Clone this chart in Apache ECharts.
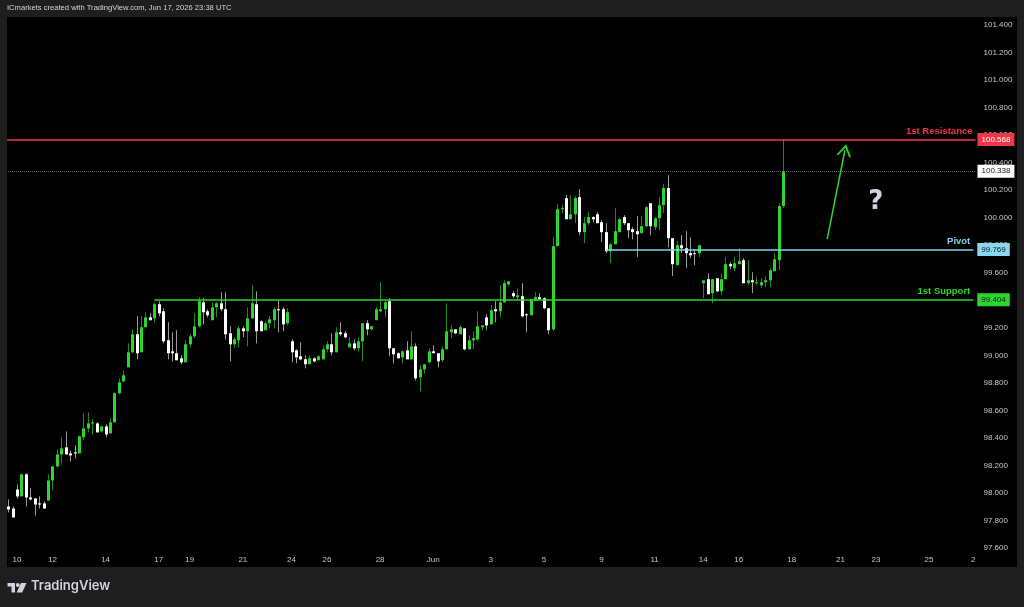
<!DOCTYPE html>
<html>
<head>
<meta charset="utf-8">
<script src="https://cdn.jsdelivr.net/npm/echarts@6/dist/echarts.min.js"></script>
<style>
  html, body { margin: 0; padding: 0; background: #000; }
  #chart { width: 1024px; height: 607px; }
</style>
</head>
<body>
<div id="chart"></div>
<script>
// 4h candles, [open, close, low, high]
const ohlc = [
  [97.902, 97.880, 97.858, 97.953], [97.887, 97.822, 97.822, 97.902], [98.025, 97.975, 97.960, 98.062],
  [97.975, 98.135, 97.975, 98.142], [98.135, 97.967, 97.902, 98.142], [97.967, 97.953, 97.945, 98.033],
  [97.960, 97.916, 97.836, 97.960], [97.924, 97.916, 97.887, 97.975], [97.924, 97.887, 97.887, 97.938],
  [97.945, 98.091, 97.945, 98.135], [98.091, 98.193, 98.018, 98.193], [98.193, 98.280, 98.185, 98.316],
  [98.280, 98.324, 98.215, 98.404], [98.331, 98.280, 98.280, 98.447], [98.287, 98.273, 98.229, 98.309],
  [98.295, 98.287, 98.251, 98.345], [98.287, 98.411, 98.287, 98.418], [98.404, 98.469, 98.382, 98.578],
  [98.469, 98.505, 98.440, 98.585], [98.505, 98.513, 98.425, 98.535], [98.505, 98.440, 98.440, 98.513],
  [98.447, 98.484, 98.440, 98.491], [98.484, 98.425, 98.404, 98.498], [98.433, 98.513, 98.433, 98.542],
  [98.513, 98.724, 98.513, 98.731], [98.724, 98.804, 98.716, 98.833], [98.811, 98.855, 98.804, 98.891],
  [98.913, 99.022, 98.913, 99.087], [99.022, 99.153, 99.015, 99.189], [99.153, 99.015, 98.971, 99.284],
  [99.022, 99.204, 99.022, 99.284], [99.204, 99.276, 99.204, 99.313], [99.276, 99.255, 99.255, 99.305],
  [99.269, 99.371, 99.240, 99.385], [99.371, 99.305, 99.284, 99.393], [99.320, 99.102, 99.087, 99.342],
  [99.109, 99.015, 98.971, 99.240], [99.029, 99.015, 98.956, 99.167], [99.015, 98.964, 98.964, 99.182],
  [98.978, 98.949, 98.935, 99.000], [98.949, 99.080, 98.949, 99.109], [99.080, 99.138, 99.058, 99.153],
  [99.138, 99.211, 99.124, 99.305], [99.211, 99.393, 99.204, 99.422], [99.385, 99.313, 99.225, 99.415],
  [99.320, 99.291, 99.276, 99.335], [99.255, 99.349, 99.255, 99.385], [99.349, 99.378, 99.276, 99.385],
  [99.378, 99.335, 99.320, 99.458], [99.335, 99.153, 99.116, 99.458], [99.160, 99.080, 98.956, 99.211],
  [99.080, 99.116, 99.051, 99.131], [99.109, 99.196, 99.058, 99.211], [99.196, 99.175, 99.131, 99.211],
  [99.175, 99.269, 99.065, 99.349], [99.269, 99.378, 99.269, 99.509], [99.371, 99.175, 99.087, 99.465],
  [99.247, 99.175, 99.175, 99.255], [99.182, 99.233, 99.182, 99.247], [99.233, 99.262, 99.196, 99.284],
  [99.255, 99.335, 99.196, 99.349], [99.335, 99.327, 99.167, 99.400], [99.335, 99.225, 99.175, 99.349],
  [99.233, 99.313, 99.218, 99.342], [99.102, 99.022, 98.949, 99.116], [99.036, 98.985, 98.942, 99.044],
  [98.993, 98.971, 98.964, 99.095], [98.971, 98.935, 98.905, 99.000], [98.935, 98.978, 98.935, 99.000],
  [98.978, 98.956, 98.949, 98.985], [98.964, 98.993, 98.964, 99.000], [98.971, 99.044, 98.971, 99.073],
  [99.044, 99.080, 99.022, 99.102], [99.080, 99.022, 99.000, 99.160], [99.022, 99.167, 99.022, 99.204],
  [99.167, 99.153, 99.138, 99.240], [99.160, 99.131, 99.124, 99.175], [99.058, 99.087, 99.058, 99.131],
  [99.087, 99.051, 99.036, 99.116], [99.051, 99.102, 99.029, 99.131], [99.102, 99.233, 98.956, 99.233],
  [99.233, 99.189, 99.145, 99.255], [99.189, 99.211, 99.182, 99.211], [99.255, 99.335, 99.255, 99.349],
  [99.320, 99.335, 99.313, 99.531], [99.335, 99.385, 99.276, 99.400], [99.393, 99.051, 98.993, 99.415],
  [99.051, 99.007, 98.942, 99.051], [99.015, 98.978, 98.978, 99.022], [98.985, 99.029, 98.942, 99.036],
  [99.036, 98.971, 98.971, 99.102], [98.971, 99.065, 98.971, 99.175], [99.065, 98.833, 98.818, 99.087],
  [98.840, 98.898, 98.738, 98.927], [98.898, 98.935, 98.869, 98.935], [98.949, 99.029, 98.942, 99.051],
  [99.029, 99.015, 99.015, 99.073], [99.015, 98.956, 98.913, 99.015], [98.964, 99.044, 98.949, 99.065],
  [99.044, 99.175, 99.044, 99.378], [99.167, 99.189, 99.124, 99.218], [99.189, 99.160, 99.153, 99.189],
  [99.153, 99.204, 99.153, 99.218], [99.196, 99.044, 99.036, 99.196], [99.044, 99.109, 99.044, 99.145],
  [99.109, 99.124, 99.044, 99.175], [99.116, 99.211, 99.102, 99.320], [99.204, 99.218, 99.182, 99.218],
  [99.276, 99.218, 99.182, 99.298], [99.225, 99.327, 99.225, 99.364], [99.335, 99.320, 99.240, 99.393],
  [99.320, 99.385, 99.276, 99.509], [99.385, 99.524, 99.385, 99.545], [99.516, 99.538, 99.502, 99.538],
  [99.451, 99.429, 99.415, 99.465], [99.422, 99.436, 99.400, 99.487], [99.429, 99.284, 99.276, 99.524],
  [99.298, 99.291, 99.167, 99.305], [99.291, 99.407, 99.291, 99.407], [99.400, 99.422, 99.400, 99.458],
  [99.422, 99.407, 99.400, 99.451], [99.415, 99.342, 99.335, 99.422], [99.342, 99.182, 99.153, 99.342],
  [99.189, 99.793, 99.175, 99.858], [99.793, 100.062, 99.793, 100.098], [100.062, 100.069, 100.033, 100.091],
  [100.142, 99.989, 99.989, 100.164], [99.989, 100.025, 99.989, 100.164], [100.025, 100.142, 99.960, 100.156],
  [100.149, 99.895, 99.873, 100.207], [99.895, 99.960, 99.815, 100.004], [99.960, 100.004, 99.945, 100.040],
  [100.004, 99.989, 99.967, 100.011], [100.025, 99.960, 99.960, 100.040], [99.967, 99.895, 99.822, 99.982],
  [99.895, 99.756, 99.742, 99.960], [99.756, 99.807, 99.669, 99.815], [99.807, 99.902, 99.807, 100.069],
  [99.895, 99.989, 99.895, 99.996], [100.004, 99.960, 99.945, 100.018], [99.960, 99.909, 99.851, 99.960],
  [99.916, 99.895, 99.844, 99.931], [99.902, 99.880, 99.713, 100.011], [99.887, 99.938, 99.887, 100.011],
  [99.938, 100.076, 99.931, 100.084], [100.105, 99.938, 99.873, 100.105], [99.931, 99.996, 99.909, 100.004],
  [99.996, 100.091, 99.909, 100.149], [100.091, 100.215, 100.033, 100.244], [100.215, 99.851, 99.785, 100.309],
  [99.851, 99.662, 99.575, 99.851], [99.655, 99.800, 99.655, 99.829], [99.800, 99.778, 99.742, 99.873],
  [99.778, 99.742, 99.633, 99.902], [99.742, 99.727, 99.705, 99.858], [99.742, 99.735, 99.655, 99.771],
  [99.742, 99.800, 99.713, 99.800], [99.524, 99.545, 99.415, 99.545], [99.553, 99.444, 99.444, 99.596],
  [99.451, 99.553, 99.378, 99.553], [99.560, 99.465, 99.458, 99.560], [99.465, 99.553, 99.436, 99.596],
  [99.553, 99.662, 99.553, 99.713], [99.662, 99.647, 99.625, 99.676], [99.633, 99.669, 99.611, 99.713],
  [99.662, 99.684, 99.662, 99.778], [99.691, 99.524, 99.524, 99.705], [99.524, 99.545, 99.509, 99.691],
  [99.545, 99.531, 99.451, 99.604], [99.524, 99.531, 99.509, 99.567], [99.509, 99.531, 99.487, 99.560],
  [99.531, 99.545, 99.495, 99.575], [99.545, 99.618, 99.495, 99.633], [99.611, 99.698, 99.611, 99.742],
  [99.691, 100.084, 99.618, 100.105], [100.084, 100.338, 100.069, 100.568]
];

// time scale: one slot per candle, plus empty space on the right
const slotCount = 219;
const dayLabels = ['10', '12', '14', '17', '19', '21', '24', '26', '28', 'Jun', '3', '5', '9', '11', '14', '16', '18', '21', '23', '25', '2'];
const dayLabelIndex = [2, 10, 22, 34, 41, 53, 64, 72, 84, 96, 109, 121, 134, 146, 157, 165, 177, 188, 196, 208, 218];

// levels
const resistance = 100.568;
const pivot = 99.769;
const support = 99.404;
const lastPrice = 100.338;
const pivotStart = 135;
const supportStart = 33;
const arrowFrom = [185, 99.844];
const arrowTo = [189, 100.49];
const questionAt = [196, 100.113];

const categories = [];
for (let i = 0; i < slotCount; i++) {
    categories.push(String(i));
}
const candleData = ohlc.map(function (d, i) {
    return [i, d[0], d[1], d[2], d[3]];
});

const upColor = '#2fd52f';
const upWick = '#1f8a1f';
const downColor = '#ffffff';
const downWick = '#9a9a9a';
const axisText = '#c3c6ce';
const font = '"Liberation Sans", Arial, sans-serif';
const lastSlot = String(slotCount - 1);
const hidden = 'rgba(0,0,0,0)';

function renderCandle(params, api) {
    const i = api.value(0);
    const open = api.value(1), close = api.value(2), low = api.value(3), high = api.value(4);
    const pOpen = api.coord([i, open]);
    const pClose = api.coord([i, close]);
    const pLow = api.coord([i, low]);
    const pHigh = api.coord([i, high]);
    const x = Math.round(pOpen[0]);
    const up = close >= open;
    const top = Math.min(pOpen[1], pClose[1]);
    const h = Math.max(1, Math.abs(pOpen[1] - pClose[1]));
    return {
        type: 'group',
        children: [{
            type: 'line',
            shape: {x1: x + 0.5, y1: pHigh[1], x2: x + 0.5, y2: pLow[1]},
            style: {stroke: up ? upWick : downWick, lineWidth: 1}
        }, {
            type: 'rect',
            shape: {x: x - 1, y: top, width: 3, height: h},
            style: {fill: up ? upColor : downColor}
        }]
    };
}

function tag(value, bg, fg, dist) {
    return {
        show: true,
        position: 'end',
        distance: dist,
        formatter: value.toFixed(3),
        backgroundColor: bg,
        color: fg,
        padding: [3, 4, 2, 4],
        fontSize: 8,
        fontFamily: font
    };
}

function caption(text, color) {
    return {
        show: true,
        position: 'insideEndTop',
        distance: 3,
        formatter: text,
        color: color,
        fontSize: 9.5,
        fontWeight: 'bold',
        fontFamily: font
    };
}

const chart = echarts.init(document.getElementById('chart'));

const option = {
    backgroundColor: '#000000',
    animation: false,
    grid: {left: 6, right: 48.5, top: 25, bottom: 59, outerBoundsMode: 'none'},
    xAxis: {
        type: 'category',
        data: categories,
        boundaryGap: true,
        axisLine: {show: false},
        axisTick: {show: false},
        splitLine: {show: false},
        axisLabel: {
            color: axisText,
            fontSize: 8,
            fontFamily: font,
            margin: 8,
            hideOverlap: false,
            interval: function (index) {
                return dayLabelIndex.indexOf(index) >= 0;
            },
            formatter: function (value, index) {
                return dayLabels[dayLabelIndex.indexOf(index)];
            }
        }
    },
    yAxis: {
        type: 'value',
        position: 'right',
        min: 97.6,
        max: 101.4,
        interval: 0.2,
        scale: true,
        axisLine: {show: false},
        axisTick: {show: false},
        splitLine: {show: false},
        axisLabel: {
            color: axisText,
            fontSize: 8,
            fontFamily: font,
            margin: 8,
            formatter: function (v) {
                return v.toFixed(3);
            }
        }
    },
    graphic: [
        // dark frame around the chart
        {type: 'rect', left: 0, top: 0, shape: {width: 1024, height: 17}, style: {fill: '#1e1e1e'}, z: 100},
        {type: 'rect', left: 0, top: 567, shape: {width: 1024, height: 40}, style: {fill: '#1e1e1e'}, z: 100},
        {type: 'rect', left: 0, top: 0, shape: {width: 7, height: 607}, style: {fill: '#1e1e1e'}, z: 100},
        {type: 'rect', left: 1017, top: 0, shape: {width: 7, height: 607}, style: {fill: '#1e1e1e'}, z: 100},
        {
            type: 'text', left: 7, top: 4, z: 101,
            style: {text: 'ICmarkets created with TradingView.com, Jun 17, 2026 23:38 UTC', fill: '#d1d4dc', font: '7.6px ' + font}
        },
        // TradingView logo
        {type: 'rect', z: 101, shape: {x: 7.5, y: 583, width: 7.5, height: 3.5}, style: {fill: '#d1d4dc'}},
        {type: 'rect', z: 101, shape: {x: 11.5, y: 583, width: 3.5, height: 9.5}, style: {fill: '#d1d4dc'}},
        {type: 'circle', z: 101, shape: {cx: 17.8, cy: 585, r: 1.9}, style: {fill: '#d1d4dc'}},
        {type: 'polygon', z: 101, shape: {points: [[21, 583], [26.5, 583], [22.2, 592.5], [16.7, 592.5]]}, style: {fill: '#d1d4dc'}},
        {
            type: 'text', left: 31, top: 580, z: 101,
            style: {text: 'TradingView', fill: '#d1d4dc', font: '600 13px Inter, "Noto Sans", sans-serif'}
        }
    ],
    series: [{
        type: 'custom',
        name: 'price',
        renderItem: renderCandle,
        encode: {x: 0, y: [1, 2, 3, 4]},
        data: candleData,
        silent: true
    }, {
        type: 'line',
        name: 'levels',
        data: [],
        silent: true,
        markLine: {
            silent: true,
            symbol: ['none', 'none'],
            precision: 3,
            data: [
                {yAxis: lastPrice, lineStyle: {color: '#5d606b', type: 'dotted', width: 1}, label: tag(lastPrice, '#ffffff', '#131722', 2)},
                {yAxis: resistance, lineStyle: {color: '#f23645', type: 'solid', width: 1.5}, label: tag(resistance, '#f23645', '#ffffff', 2)},
                {yAxis: resistance, lineStyle: {color: hidden, width: 0}, label: caption('1st Resistance', '#f23645')},
                [{coord: [String(pivotStart), pivot], lineStyle: {color: '#7fd3ea', type: 'solid', width: 1.5}, label: tag(pivot, '#8ad7ee', '#131722', 4)},
                    {coord: [lastSlot, pivot]}],
                [{coord: [String(pivotStart), pivot], lineStyle: {color: hidden, width: 0}, label: caption('Pivot', '#7fd3ea')},
                    {coord: [lastSlot, pivot]}],
                [{coord: [String(supportStart), support], lineStyle: {color: upColor, type: 'solid', width: 1.5}, label: tag(support, upColor, '#131722', 4)},
                    {coord: [lastSlot, support]}],
                [{coord: [String(supportStart), support], lineStyle: {color: hidden, width: 0}, label: caption('1st Support', upColor)},
                    {coord: [lastSlot, support]}],
                // drawn arrow
                [{coord: [String(arrowFrom[0]), arrowFrom[1]], symbol: 'none',
                    lineStyle: {color: upColor, type: 'solid', width: 1.5}, label: {show: false}},
                    {coord: [String(arrowTo[0]), arrowTo[1]],
                        symbol: 'path://M0,12 L6,0 L12,12 L10.4,12 L6,3.4 L1.6,12 Z', symbolSize: [15, 12]}]
            ]
        },
        markPoint: {
            silent: true,
            symbol: 'circle',
            symbolSize: 0,
            data: [{
                coord: [String(questionAt[0]), questionAt[1]],
                label: {
                    show: true,
                    position: 'inside',
                    formatter: '?',
                    color: '#d1d4dc',
                    fontSize: 26,
                    fontWeight: 'bold',
                    fontFamily: '"DejaVu Sans", sans-serif'
                }
            }]
        }
    }]
};

chart.setOption(option);
</script>
</body>
</html>
